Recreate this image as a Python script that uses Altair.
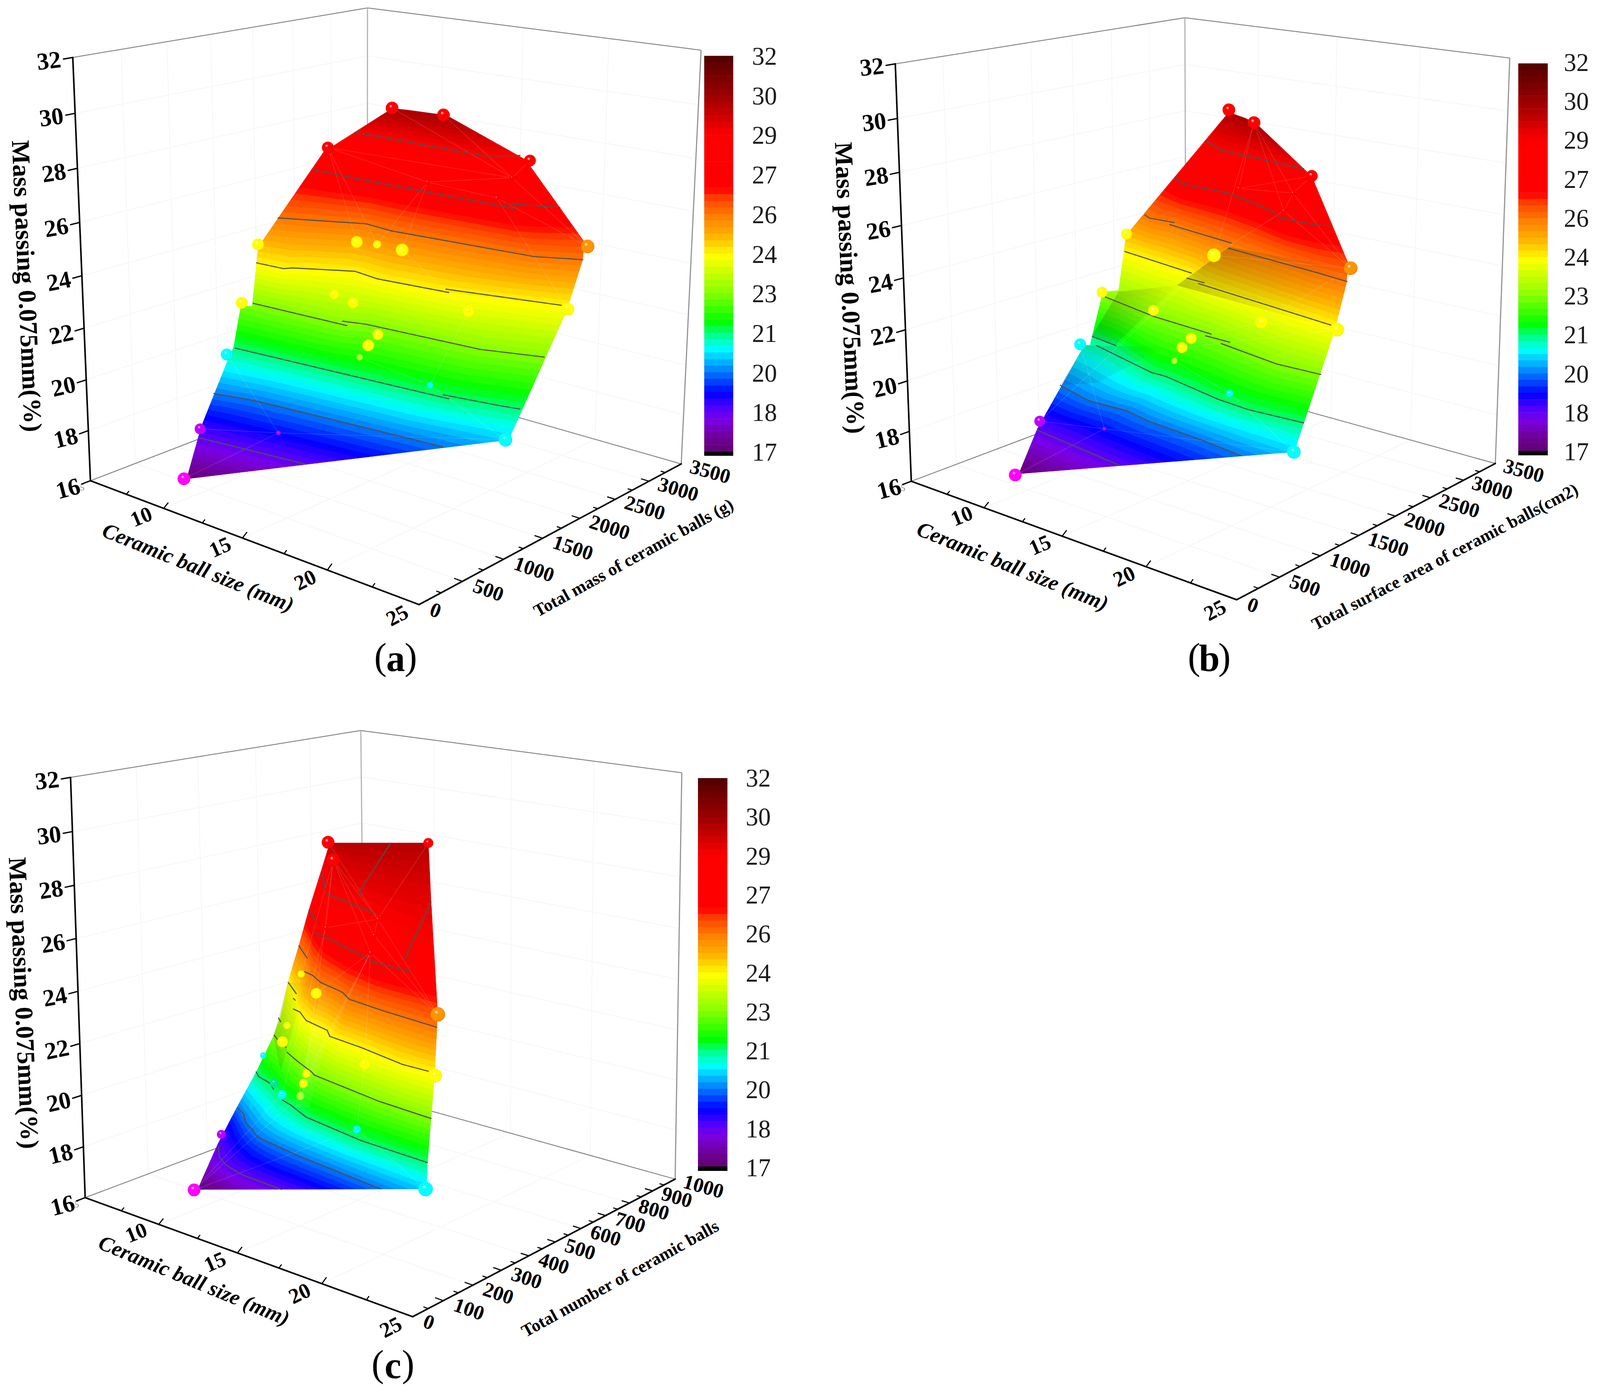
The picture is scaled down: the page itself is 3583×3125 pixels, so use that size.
import math
import numpy as np
import pandas as pd
import altair as alt

# ---------- values: (ball size mm, total, mass passing %) ----------
A_C={29:[[(13.22,1675),(20.73,1680),(21.79,1865)]],
27.5:[[(11.44,1522),(18.04,1544),(22.77,1571)],[(21.91,1648),(24.17,1814)]],
26:[[(11.25,1132),(14.99,1455),(16.68,1419),(23.97,1548),(25.80,1715)]],
24.5:[[(11.09,907),(12.68,925),(12.89,985),(15.39,1238),(16.95,1193),(20.63,1269)],[(20.23,1323),(25.40,1557)]],
23:[[(11.04,868),(16.50,921)],[(15.93,983),(17.02,1044),(22.96,1135),(25.62,1302)]],
21.5:[[(10.98,667),(22.55,857)],[(22.06,899),(24.70,986),(25.57,1025)]],
20:[[(10.81,446),(12.89,541),(22.83,735)]],
18.5:[[(10.78,283),(16.60,427)]]}
A_TOP=(30.3,[(16.12,1533),(18.80,1583)])
A_BOT=(17.1,[(10.72,141),(12.23,196)])
A_X=[]
A_O=[(10.72,141,17.1),(10.73,276,18.5),(10.79,317,19.0),(10.83,610,21.1),(10.80,683,21.5),(10.33,856,22.8),(11.06,855,22.9),(10.82,974,24.9),(11.07,996,25.3),(11.89,1557,28.2),(16.20,1517,30.3),(18.62,1622,30.3),(22.15,1851,28.9),(25.51,1803,26.5),(25.80,1715,26.0),(25.71,1554,24.4),(25.60,903,20.7),(25.49,860,20.6)]
A_B=[(16.12,1533,30.3),(18.80,1583,30.3),(11.76,1634,28.3),(22.38,1851,28.9),(17.92,1588,27.8),(22.14,1685,28.4),(21.39,1674,27.6),(25.78,1779,26.4),(10.85,970,25.1),(14.91,1358,25.4),(16.15,1350,25.5),(17.60,1352,25.5),(15.15,1040,23.8),(16.10,1075,23.6),(10.31,869,22.9),(21.74,1267,24.0),(25.70,1568,24.4),(17.86,1011,22.8),(17.53,965,22.4),(17.35,900,22.0),(10.53,648,21.2),(21.30,906,21.7),(25.49,874,20.6),(10.70,305,18.8),(14.65,480,19.2),(10.62,127,17.1)]
A_S=[]

B_C={29:[[(14.83,1761),(16.74,1559),(18.41,1521),(21.94,1446)]],
27.5:[[(13.36,1678),(14.59,1531),(17.32,1526),(19.54,1384),(20.94,1287),(21.84,1157),(23.90,1158),(24.46,1221)]],
26:[[(12.11,1546),(12.73,1489),(14.14,1509)],[(14.24,1435),(18.52,1307)],[(18.99,1172),(24.35,1060),(26.14,1011)]],
24.5:[[(11.15,1480),(16.02,1337)],[(16.43,1201),(17.51,1188)],[(17.40,1142),(25.66,935)]],
23:[[(11.28,1211),(15.15,1059),(18.83,1001)],[(18.80,937),(20.21,934)],[(20.04,866),(23.63,753),(25.87,772)]],
21.5:[[(10.97,1108),(12.75,1056)],[(12.07,954),(16.62,735),(17.45,737),(21.19,591),(22.98,561),(25.75,601)]],
20:[[(10.89,735),(13.38,614),(15.65,636),(17.27,571),(20.64,523),(23.06,463)]],
18.5:[[(10.69,498),(16.64,358)]]}
B_TOP=(30.3,[(16.25,1758),(19.01,1478)])
B_BOT=(17.1,[(10.73,273),(12.83,228)])
B_X=[]
B_O=[(10.73,273,17.1),(10.57,519,18.5),(10.28,1136,21.0),(10.98,1078,21.2),(11.00,1218,22.9),(11.37,1226,23.2),(11.91,1257,23.3),(10.92,1536,24.9),(11.12,1570,25.3),(16.22,1763,30.2),(18.82,1518,30.3),(22.45,1430,28.8),(25.73,1117,26.5),(26.24,981,26.0),(25.88,936,24.4),(25.82,502,20.9),(25.87,459,20.7)]
B_B=[(16.25,1758,30.3),(19.01,1478,30.3),(22.39,1444,28.8),(18.11,1487,27.8),(22.13,1271,28.3),(21.94,1203,27.7),(26.10,1065,26.4),(10.95,1542,25.1),(17.80,1249,25.5),(10.93,1239,23.1),(15.04,1074,23.2),(21.72,990,23.9),(26.01,931,24.4),(18.05,921,22.8),(17.85,853,22.5),(17.57,816,22.0),(9.72,1187,20.9),(21.53,653,21.7),(25.87,459,20.7),(10.66,533,18.8),(14.81,527,19.3),(10.71,235,17.1)]
B_S=[[(18.90,1209,26.0),(16.00,1167,24.2),(25.84,929,24.4),(25.91,1076,26.3)],[(12.05,1229,23.3),(16.00,1167,24.2),(12.70,1049,21.5),(10.94,1103,21.5)],[(10.28,1136,21.0),(16.71,886,22.3),(13.22,746,20.5),(10.89,735,20.0)]]

C_C={29:[[(15.44,265.8),(16.87,197.0),(18.01,136.8)],[(18.32,119.6),(22.17,53.5)]],
27.5:[[(14.59,269.0),(16.23,203.5)],[(17.50,128.1),(18.43,112.0),(21.81,44.6),(22.54,25.1),(24.70,19.4)]],
26:[[(13.61,286.7),(15.36,219.5)],[(16.80,132.3),(17.47,121.9),(18.53,90.1),(20.24,63.9),(21.12,34.1),(23.26,16.0),(26.37,-2.0)]],
24.5:[[(12.85,289.9),(14.38,234.4)],[(15.96,140.6),(16.48,133.2),(17.57,94.6),(19.21,70.8),(19.88,42.1),(21.87,26.9),(24.63,-4.0),(25.94,-3.5)]],
23:[[(13.75,193.5),(14.39,172.0),(15.41,144.3)],[(15.93,119.7),(17.09,89.4),(18.59,54.0),(18.97,42.0),(23.24,2.8),(26.16,-8.8)]],
21.5:[[(12.77,182.9),(13.36,161.6),(14.33,146.3),(15.04,120.9)],[(16.36,79.9),(17.07,67.9),(18.65,31.8),(22.28,0.1),(25.97,-9.2)]],
20:[[(11.72,174.9),(12.64,148.4),(13.51,110.1),(14.29,90.6),(15.10,63.3),(17.99,37.0),(23.26,5.2)]],
18.5:[[(11.01,144.4),(12.07,96.0),(12.94,72.6),(14.35,53.3),(16.87,45.6)]]}
C_TOP=(30.1,[(15.88,271.1),(19.14,416.3)])
C_BOT=(17.1,[(10.84,84.1),(12.22,74.2)])
C_X=[(29,[(27.83,-186.5),(22.70,206.5)]),(29,[(19.93,144.9),(19.12,185.6),(13.54,617.0)]),(24.5,[(14.83,201.3),(15.07,193.9)]),(23,[(12.05,297.2),(12.53,279.1)])]
C_O=[(10.84,84.1,17.1),(10.52,167.0,18.4),(11.69,173.5,20.0),(12.95,176.9,21.6),(13.57,200.1,22.9),(13.15,246.7,23.4),(12.84,289.3,24.5),(13.61,286.7,26.0),(14.59,269.0,27.5),(15.42,265.0,29.0),(15.88,271.1,30.1),(19.14,416.3,30.1),(22.70,206.5,29.0),(26.22,8.7,26.6),(26.31,1.9,26.0),(26.24,-2.0,24.4),(26.05,-14.4,21.5),(25.90,-8.7,20.6)]
C_B=[(15.71,274.5,30.1),(19.14,416.3,30.1),(16.84,228.0,29.7),(23.01,17.9,29.0),(18.34,119.1,27.8),(22.35,43.6,28.3),(22.18,41.7,27.7),(18.01,103.4,25.5),(26.34,2.9,26.4),(15.41,196.5,25.5),(14.58,192.1,23.5),(14.72,169.3,23.0),(12.98,196.7,22.1),(22.20,19.6,24.0),(26.26,-1.3,24.4),(18.06,66.4,22.8),(18.08,55.0,22.5),(15.00,125.8,21.7),(16.08,93.2,21.6),(17.84,58.2,22.0),(21.98,5.1,21.8),(11.20,145.8,19.0),(10.76,76.6,17.1),(25.88,-9.9,20.6)]
C_S=[[(13.57,200.1,22.9),(12.84,289.3,24.5),(16.53,152.2,25.5),(15.36,128.4,22.2)],[(17.44,62.6,21.5),(18.59,92.7,26.0),(19.82,63.8,25.6),(18.90,29.9,21.9)]]

# ---------- styles ----------
A_COL="r r r r r r r o y y y y y y y y y y y g c c c p p m".split()
A_RAD=[14,14,13,13,6,6,6,15,13,13,9,14,11,12,13,13,14,12,13,7,13,7,15,12,5,14]
A_E=[(2,5),(2,4),(4,5),(0,5),(1,5),(3,5),(5,7),(4,6),(6,7),(2,9),(2,10),(4,11),(4,10),(11,15),(6,16),(24,23),(24,25),(24,20),(24,22),(21,22),(19,21),(15,21)]
B_COL="r r r r r r o y y y y y y y y g c c c p p m".split()
B_RAD=[14,14,13,6,6,6,15,12,15,12,12,14,15,12,12,7,13,8,15,12,4,14]
B_E=[(1,3),(1,4),(1,5),(1,8),(2,3),(2,4),(3,4),(4,5),(4,6),(5,6),(2,6),(5,8),(6,8),(6,11),(6,12),(11,12),(13,11),(14,12),(13,15),(14,15),(15,17),(17,18),(19,20),(20,21),(20,18),(19,8),(20,16)]
C_COL="r r r r r r r y o y y y c y y y y t c g c p m c".split()
C_RAD=[14,11,15,6,6,6,6,12,16,8,8,12,7,12,15,9,10,10,10,9,9,10,14,16]
C_E=[(2,3),(2,4),(2,5),(2,6),(0,3),(1,3),(3,4),(3,5),(3,8),(5,8),(6,8),(6,13),(13,20),(13,14),(7,6),(15,6),(16,6),(19,6),(22,21),(22,19),(22,18),(22,20),(20,23),(14,8),(2,10),(2,15),(4,18),(7,16)]
BALL_COL={'r':('#ff0000','#c80000'),'o':('#ff9400','#e06000'),'y':('#ffff00','#e8d800'),'g':('#b0ff30','#60e000'),'c':('#00ffff','#00d8e0'),'t':('#00e890','#00c070'),'p':('#c000ff','#8000c0'),'m':('#ff00ff','#d000d0')}
BALL_SCALE=1.15

Z_TICKS=[16,18,20,22,24,26,28,30,32]
SIZE_LABELS=[10,15,20,25]
SIZE_MINOR=[7.5,12.5,17.5,22.5]
MASS_LABELS=[0,500,1000,1500,2000,2500,3000,3500]
NUM_LABELS=[0,100,200,300,400,500,600,700,800,900,1000]
BAR_LABELS=[32,30,29,27,26,24,23,21,20,18,17]
STOPS=[(17,'#640070'),(17.6,'#7000a0'),(18.2,'#7a00e6'),(18.7,'#4a00ff'),(19.2,'#0000ff'),(20.1,'#0088ff'),(20.9,'#00ffff'),(21.4,'#00ff90'),(21.9,'#00ff00'),(23.1,'#90ff00'),(24.4,'#ffff00'),(25.2,'#ffb000'),(25.9,'#ff8000'),(26.6,'#ff4000'),(26.95,'#ff0000'),(29,'#fc0000'),(30.4,'#a00000'),(32,'#500000')]
SERIF='Liberation Serif'

def hexrgb(h): return [int(h[i:i+2],16) for i in (1,3,5)]
def cmap(z):
    zs=[s[0] for s in STOPS]; rgb=np.array([hexrgb(s[1]) for s in STOPS])
    c=[int(round(np.interp(z,zs,rgb[:,i]))) for i in range(3)]
    return '#%02x%02x%02x'%tuple(c)

# ---------- 3-D view of each panel: where the box corners fall on the page ----------
def fit(c,M):
    A=[]
    for (s,t,z),(u,v) in c:
        X=[(s-5)/20,t/M,(z-16)/16,1]
        A.append(X+[0]*4+[-u*x for x in X]); A.append([0]*4+X+[-v*x for x in X])
    return np.linalg.svd(np.array(A))[2][-1].reshape(3,4)

PANELS=[
 dict(M=3500,corn=[(202,1077),(163,129),(939,1354),(1525,1040),(1570,112),(823,838),(823,18)],
  C=A_C,TOP=A_TOP,BOT=A_BOT,X=A_X,O=A_O,B=A_B,S=A_S,COL=A_COL,RAD=A_RAD,E=A_E,
  shade=[],lab=MASS_LABELS,minor=250,gridt=500,
  tsize=((443,1273),22),tmass=("Total mass of ceramic balls (g)",(1419,1250),-29),tz=((58,641),87.5),
  bar=(1577,1642,125,1021),barlab=(1684,128,1015),tag=('a',(886,1478))),
 dict(M=3500,corn=[(2041,1076),(2004,144),(2770,1345),(3349,1037),(3380,130),(2655,848),(2655,39)],
  C=B_C,TOP=B_TOP,BOT=B_BOT,X=B_X,O=B_O,B=B_B,S=B_S,COL=B_COL,RAD=B_RAD,E=B_E,
  shade=[('0,0,0',.24),('0,0,0',.22),('0,0,0',.16)],lab=MASS_LABELS,minor=250,gridt=500,
  tsize=((2267,1270),22),tmass=("Total surface area of ceramic balls(cm2)",(3236,1248),-27.5),tz=((1901,645),87.5),
  bar=(3400,3466,142,1020),barlab=(3502,142,1014),tag=('b',(2708,1478))),
 dict(M=1000,corn=[(192,2681),(155,1743),(926,2950),(1513,2642),(1524,1730),(813,2448),(813,1636)],
  C=C_C,TOP=C_TOP,BOT=C_BOT,X=C_X,O=C_O,B=C_B,S=C_S,COL=C_COL,RAD=C_RAD,E=C_E,
  shade=[('0,0,0',.14),('255,255,255',.16)],lab=NUM_LABELS,minor=50,gridt=200,
  tsize=((434,2870),22.4),tmass=("Total number of ceramic balls",(1389,2865),-29),tz=((51,2247),87.5),
  bar=(1563,1629,1743,2623),barlab=(1670,1745,2618),tag=('c',(880,3062))),
]
CORNERS=lambda M:[(5,0,16),(5,0,32),(25,0,16),(25,M,16),(25,M,32),(5,M,16),(5,M,32)]

OFF=8
def make_proj(p):
    P=fit(list(zip(CORNERS(p['M']),p['corn'])),p['M']); M=p['M']
    def f(s,t,z):
        X=np.array([(s-5)/20,t/M,(z-16)/16,1.0]); r=P@X
        return (r[0]/r[2]-OFF, r[1]/r[2]-OFF)
    return f

# ---------- polygon helpers ----------
def area(poly):
    return .5*sum(poly[i][0]*poly[(i+1)%len(poly)][1]-poly[(i+1)%len(poly)][0]*poly[i][1] for i in range(len(poly)))
def cross(o,a,b): return (a[0]-o[0])*(b[1]-o[1])-(a[1]-o[1])*(b[0]-o[0])
def ears(poly):
    pts=list(poly)
    if area(pts)<0: pts=pts[::-1]
    tris=[]; guard=0
    while len(pts)>3 and guard<500:
        guard+=1; done=False
        for i in range(len(pts)):
            a,b,c=pts[i-1],pts[i],pts[(i+1)%len(pts)]
            if cross(a,b,c)<=1e-9: continue
            if any(cross(a,b,q)>0 and cross(b,c,q)>0 and cross(c,a,q)>0 for q in pts if q not in (a,b,c)): continue
            tris.append((a,b,c)); pts.pop(i); done=True; break
        if not done:
            tris.append((pts[-1],pts[0],pts[1])); pts.pop(0)
    tris.append(tuple(pts))
    return tris
def clip(poly,tri):
    out=poly
    for i in range(3):
        a,b=tri[i],tri[(i+1)%3]
        inp,out=out,[]
        if not inp: break
        for j in range(len(inp)):
            p,q=inp[j-1],inp[j]
            dp,dq=cross(a,b,p),cross(a,b,q)
            if dq>=0:
                if dp<0:
                    k=dp/(dp-dq); out.append((p[0]+k*(q[0]-p[0]),p[1]+k*(q[1]-p[1])))
                out.append(q)
            elif dp>=0:
                k=dp/(dp-dq); out.append((p[0]+k*(q[0]-p[0]),p[1]+k*(q[1]-p[1])))
    return out
def extend(pl,L):
    a,b=np.array(pl[0]),np.array(pl[1]); c,d=np.array(pl[-2]),np.array(pl[-1])
    e0=a+(a-b)/max(np.linalg.norm(a-b),1e-6)*L; e1=d+(d-c)/max(np.linalg.norm(d-c),1e-6)*L
    return [tuple(e0)]+list(pl)+[tuple(e1)]
def resample(pl,N):
    pl=np.array(pl); d=np.r_[0,np.cumsum(np.hypot(*np.diff(pl,axis=0).T))]; q=np.linspace(0,d[-1],N)
    return np.c_[np.interp(q,d,pl[:,0]),np.interp(q,d,pl[:,1])]

features=[]; shade_layers=[]; rules=[]; texts=[]; balls=[]; bars=[]; cont=[]; mesh=[]
def rule(a,b,color,w): rules.append(dict(x=a[0],y=a[1],x2=b[0],y2=b[1],c=color,w=w))
def text(t,pos,angle,fs,style): texts.append(dict(t=t,x=pos[0],y=pos[1],a=angle%360,fs=fs,st=style))
def geo(pts,props):
    ring=[[round(float(x),1),round(float(y),1)] for x,y in pts]; ring.append(ring[0])
    return {"type":"Feature","geometry":{"type":"Polygon","coordinates":[ring]},"properties":props}

SUB=8; NPTS=40; EXT=500
GRID='#f4f4f4'
for p in PANELS:
    f=make_proj(p); M=p['M']
    for z in Z_TICKS:
        rule(f(5,0,z),f(5,M,z),GRID,1.5); rule(f(5,M,z),f(25,M,z),GRID,1.5)
    for t in range(p['gridt'],M,p['gridt']):
        rule(f(5,t,16),f(5,t,32),GRID,1.5); rule(f(5,t,16),f(25,t,16),GRID,1.5)
    for s in [10,15,20]:
        rule(f(s,M,16),f(s,M,32),GRID,1.5); rule(f(s,0,16),f(s,M,16),GRID,1.5)
    rule(f(5,0,16),f(5,M,16),'#808080',2); rule(f(5,M,16),f(25,M,16),'#808080',2)
    rule(f(5,0,32),f(5,M,32),'#808080',2); rule(f(5,M,32),f(25,M,32),'#808080',2)
    rule(f(5,M,16),f(5,M,32),'#b0b0b0',2.5); rule(f(25,M,16),f(25,M,32),'#909090',2.5)
    rule(f(5,0,16),f(5,0,32),'#000000',3.5); rule(f(5,0,16),f(25,0,16),'#000000',3.5); rule(f(25,0,16),f(25,M,16),'#000000',3.5)
    for z in Z_TICKS:
        rule(f(5,0,z),f(5,-.027*M,z),'#000000',3)
        q0=f(5,0,z); q1=f(5,M,z); ang=math.degrees(math.atan2(q1[1]-q0[1],q1[0]-q0[0]))
        text(str(z),f(5,-.068*M,z),ang*.7,54,'b')
    for s in SIZE_LABELS[:3]+SIZE_MINOR:
        k=1 if s in SIZE_LABELS else .55
        rule(f(s,0,16),f(s,.014*M*k,16+.14*k),'#000000',2.5)
    for s in SIZE_LABELS:
        q0=f(s,0,16); q1=f(25,M,16) if s==25 else f(s,M,16)
        text(str(s),f(s,-.068*M,16),math.degrees(math.atan2(q1[1]-q0[1],q1[0]-q0[0])),48,'b')
    text('5',f(5,-.026*M,15.85),0,20,'g')
    step=p['minor']
    for t in range(step,M,step):
        k=1 if t%(2*step)==0 else .55
        rule(f(25,t,16),f(25-.42*k,t,16),'#000000',2.5)
    for t in p['lab']:
        w=len(str(t)); ds={1:.85,3:1.35,4:1.6}[w]
        q=f(25,t,16); q1=f(5,t,16)
        ang=math.degrees(math.atan2(q[1]-q1[1],q[0]-q1[0]))
        text(str(t),f(25+ds,t,16),ang,46,'b')
    (pos,ang)=p['tsize']; text("Ceramic ball size (mm)",(pos[0]-OFF,pos[1]-OFF),ang,48,'bi')
    (lab,pos,ang)=p['tmass']; text(lab,(pos[0]-OFF,pos[1]-OFF),ang,39,'b')
    (pos,ang)=p['tz']; text("Mass passing 0.075mm(%)",(pos[0]-OFF,pos[1]-OFF),ang,57,'b')
    x0,x1,y0,y1=p['bar']; bh=(y1-y0-10)/60
    for i in range(60):
        z=32-15*(i+.5)/60
        bars.append(dict(x=x0-OFF,x2=x1-OFF,y=y0+i*bh-OFF,y2=y0+(i+1)*bh+.5-OFF,c=cmap(z)))
    bars.append(dict(x=x0-OFF,x2=x1-OFF,y=y1-10-OFF,y2=y1-OFF,c='#000000'))
    lx,ly0,ly1=p['barlab']
    for i,v in enumerate(BAR_LABELS):
        texts.append(dict(t=str(v),x=lx-OFF,y=ly0+(ly1-ly0)*i/10-OFF,a=0,fs=56,st='l'))
    tg,(tx,ty)=p['tag']
    text('(',(tx-34-OFF,ty-OFF-4),0,84,'r'); text(tg,(tx-OFF,ty-OFF),0,84,'b'); text(')',(tx+34-OFF,ty-OFF-4),0,84,'r')
    # surface: colour bands between the contour lines, clipped to the surface outline
    outline=[f(*v) for v in p['O']]
    tris=ears(outline)
    tris=[t if cross(t[0],t[1],t[2])>=0 else t[::-1] for t in tris]
    levels=[(p['BOT'][0],[f(a,b,p['BOT'][0]) for a,b in p['BOT'][1]])]
    for z in sorted(p['C']):
        chain=[]
        for seg in p['C'][z]:
            for a,b in seg:
                q=f(a,b,z)
                if not chain or q[0]>chain[-1][0]: chain.append(q)
        levels.append((z,chain))
    levels.append((p['TOP'][0],[f(a,b,p['TOP'][0]) for a,b in p['TOP'][1]]))
    lines=[resample(extend(c,EXT),NPTS) for z,c in levels]
    for i in range(len(levels)-1):
        za,zb=levels[i][0],levels[i+1][0]; la,lb=lines[i],lines[i+1]
        for k in range(SUB):
            u0,u1=k/SUB,(k+1)/SUB
            m0=la+(lb-la)*u0; m1=la+(lb-la)*u1
            poly=[tuple(q) for q in m0]+[tuple(q) for q in m1[::-1]]
            col=cmap(za+(zb-za)*(u0+u1)/2)
            for tr in tris:
                cl=clip(poly,tr)
                if len(cl)>=3 and abs(area(cl))>.5:
                    features.append(geo(cl,{"fill":col}))
    for sh,(rgb,op) in zip(p['S'],p['shade']):
        shade_layers.append((geo([f(*v) for v in sh],{}),rgb,op))
    for i,j in p['E']:
        a=f(*p['B'][i]); b=f(*p['B'][j]); mesh.append(dict(x=a[0],y=a[1],x2=b[0],y2=b[1]))
    for z,segs in p['C'].items():
        for seg in segs:
            pts=[f(a,b,z) for a,b in seg]
            for a,b in zip(pts,pts[1:]): cont.append(dict(x=a[0],y=a[1],x2=b[0],y2=b[1]))
    for z,seg in p['X']:
        pts=[f(a,b,z) for a,b in seg]
        for a,b in zip(pts,pts[1:]): cont.append(dict(x=a[0],y=a[1],x2=b[0],y2=b[1]))
    for v,c,r in zip(p['B'],p['COL'],p['RAD']):
        x,y=f(*v); rr=r*BALL_SCALE; balls.append(dict(x=x,y=y,size=math.pi*rr*rr,c=c))

W,H=3567,3109
sx=alt.Scale(domain=[0,W],nice=False,zero=False); sy=alt.Scale(domain=[0,H],reverse=True,nice=False,zero=False)
X=alt.X('x:Q',scale=sx,axis=None); Y=alt.Y('y:Q',scale=sy,axis=None)
PROJ=dict(type='identity',scale=1,translate=[0,0])

layers=[]
rdf=pd.DataFrame(rules).round(1)
for (c,w),g in rdf[rdf.c!='#000000'].groupby(['c','w'],sort=False):
    layers.append(alt.Chart(g).mark_rule(color=c,strokeWidth=w).encode(x=X,y=Y,x2='x2:Q',y2='y2:Q'))
layers.append(alt.Chart(alt.Data(values=features)).mark_geoshape(strokeWidth=1).encode(
    fill=alt.Fill('properties.fill:N',scale=None),stroke=alt.Stroke('properties.fill:N',scale=None)).project(**PROJ))
for feat,rgb,op in shade_layers:
    grad={"gradient":"linear","x1":0,"y1":0,"x2":1,"y2":0.25,
          "stops":[{"offset":0,"color":f"rgba({rgb},{op})"},{"offset":1,"color":f"rgba({rgb},0)"}]}
    layers.append(alt.Chart(alt.Data(values=[feat])).mark_geoshape(fill=grad,strokeOpacity=0).project(**PROJ))
layers.append(alt.Chart(pd.DataFrame(mesh).round(1)).mark_rule(color='#ffffff',opacity=.18,strokeWidth=1.2).encode(x=X,y=Y,x2='x2:Q',y2='y2:Q'))
layers.append(alt.Chart(pd.DataFrame(cont).round(1)).mark_rule(color='#505050',strokeWidth=2.4,strokeCap='round').encode(x=X,y=Y,x2='x2:Q',y2='y2:Q'))
for (c,w),g in rdf[rdf.c=='#000000'].groupby(['c','w'],sort=False):
    layers.append(alt.Chart(g).mark_rule(color=c,strokeWidth=w,strokeCap='round').encode(x=X,y=Y,x2='x2:Q',y2='y2:Q'))
layers.append(alt.Chart(pd.DataFrame(bars).round(1)).mark_rect().encode(x=X,y=Y,x2='x2:Q',y2='y2:Q',fill=alt.Fill('c:N',scale=None)))
bdf=pd.DataFrame(balls).round(1)
for k,g in bdf.groupby('c',sort=False):
    c,e=BALL_COL[k]
    grad={"gradient":"radial","x1":.38,"y1":.32,"r1":0,"x2":.5,"y2":.5,"r2":.56,
          "stops":[{"offset":0,"color":"#ffffff"},{"offset":.24,"color":c},{"offset":.8,"color":c},{"offset":1,"color":e}]}
    layers.append(alt.Chart(g).mark_circle(fill=grad,opacity=1,strokeWidth=0).encode(x=X,y=Y,size=alt.Size('size:Q',scale=None)))
tdf=pd.DataFrame(texts).round(1)
styles={'b':dict(fontWeight='bold'),'bi':dict(fontWeight='bold',fontStyle='italic'),'r':dict(),'l':dict(),'g':dict(color='#888888')}
for st,g in tdf.groupby('st',sort=False):
    kw=dict(font=SERIF,align='center',baseline='middle',color='#000000'); kw.update(styles[st])
    if st=='l': kw.update(align='left',color='#1a1a1a')
    layers.append(alt.Chart(g).mark_text(**kw).encode(x=X,y=Y,text='t:N',angle=alt.Angle('a:Q',scale=None),size=alt.Size('fs:Q',scale=None)))

chart=alt.layer(*layers).properties(width=W,height=H,padding=0,autosize=alt.AutoSizeParams(type='none'),background='white').configure_view(strokeWidth=0)
chart.save("out.html", embed_options={"renderer": "svg", "actions": False})
